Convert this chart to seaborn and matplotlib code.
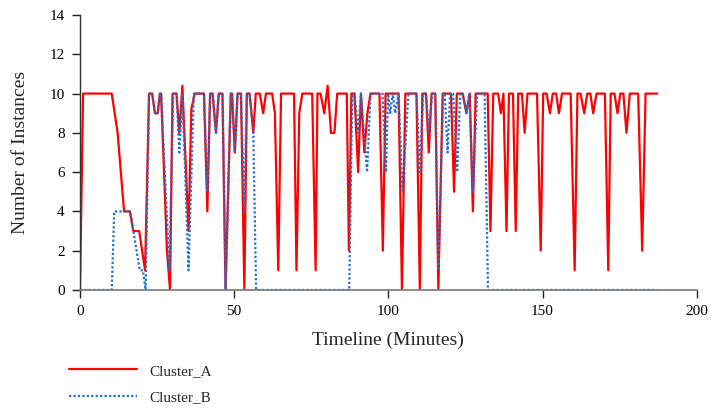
import matplotlib
matplotlib.use("Agg")
import matplotlib.pyplot as plt
import seaborn as sns
import pandas as pd

# Cluster_A breakpoints (minutes, instances)
a_time = [0, 1, 10.3, 12.2, 14.3, 16.2, 17.3, 19.2, 21.1, 22.4, 23.4, 24.3, 25.2, 25.9, 26.3, 28.2, 29.2,
          30.0, 31.3, 32.2, 33.2, 35.2, 36.1, 37.2, 40.2, 41.3, 42.2, 43.0, 44.1, 45.0, 46.2, 47.2,
          48.9, 49.3, 50.2, 51.1, 52.2, 53.3, 54.1, 55.0, 56.2, 57.0, 58.3, 59.4, 60.3, 62.3, 63.2,
          64.3, 65.2, 69.4, 70.2, 71.1, 72.1, 75.3, 76.4, 77.0, 78.0, 79.2, 80.3, 81.4, 82.5, 83.4,
          86.5, 87.2, 88.0, 89.0, 90.2, 91.1, 92.2, 93.2, 94.2, 97.1, 98.2, 99.1, 103.3, 104.4,
          105.5, 109.1, 110.2, 111.0, 112.2, 113.1, 114.0, 115.2, 116.2, 117.6, 120.3, 121.3, 122.2,
          124.1, 125.3, 126.4, 127.4, 128.3, 132.2, 133.1, 134.0, 135.6, 136.5, 137.3, 138.3, 139.1,
          140.4, 141.3, 142.1, 143.3, 144.2, 145.1, 148.2, 149.4, 150.2, 151.3, 152.4, 153.3, 154.4,
          155.3, 156.3, 159.1, 160.4, 161.3, 162.3, 163.5, 164.5, 165.5, 166.4, 167.5, 170.2, 171.3,
          172.1, 173.3, 174.3, 175.2, 176.2, 177.2, 178.3, 181.0, 182.3, 183.4, 187.2]
a_vals = [0, 10, 10, 8, 4, 4, 3, 3, 1, 10, 10, 9, 9, 10, 10, 2, 0,
          10, 10, 8, 10.4, 3, 9.2, 10, 10, 4, 10, 10, 8, 10, 10, 0,
          10, 10, 7, 10, 10, 0, 10, 10, 8, 10, 10, 9, 10, 10, 9,
          1, 10, 10, 1, 9, 10, 10, 1, 10, 10, 9, 10.4, 8, 8, 10,
          10, 2, 10, 10, 6, 10, 7, 9, 10, 10, 2, 10, 10, 0,
          10, 10, 0, 10, 10, 7, 10, 10, 0, 10, 10, 5, 10,
          10, 9, 10, 4, 10, 10, 3, 10, 10, 9, 10, 3, 10,
          10, 3, 10, 10, 8, 10, 10, 2, 10, 10, 9, 10, 10,
          9, 10, 10, 1, 10, 10, 9, 10, 10, 9, 10, 10, 1,
          10, 10, 9, 10, 10, 8, 10, 10, 2, 10, 10]

# Cluster_B breakpoints (minutes, instances)
b_time = [0, 10.3, 11.1, 16.2, 17.3, 19.4, 20.4, 21.3, 22.4, 23.4, 24.3, 25.2, 25.9, 26.3, 29.0, 30.2,
          31.3, 32.2, 33.2, 35.2, 36.9, 40.2, 41.3, 42.2, 43.0, 44.1, 45.0, 46.2, 47.2, 48.9, 49.3,
          50.2, 51.1, 52.2, 53.3, 54.1, 55.0, 56.2, 57.1, 87.3, 88.3, 89.0, 90.2, 91.1, 93.1, 94.2,
          98.1, 99.2, 99.9, 100.6, 101.4, 102.2, 103.3, 104.6, 106.5, 109.1, 110.2, 111.3, 112.2,
          113.1, 114.2, 115.2, 116.2, 117.8, 118.3, 119.2, 120.0, 121.0, 122.3, 123.3, 124.1, 125.3,
          126.2, 127.4, 128.8, 131.2, 132.3, 187.2]
b_vals = [0, 0, 4, 4, 3, 1, 1, 0, 10, 10, 9, 9, 10, 10, 1, 10,
          10, 7, 10, 1, 10, 10, 5, 10, 10, 8, 10, 10, 0, 10, 10,
          7, 10, 10, 4, 10, 10, 8, 0, 0, 10, 10, 8, 10, 6, 10,
          10, 6, 10, 9, 10, 9, 10, 5, 10, 10, 6, 10, 10,
          8, 10, 10, 1, 10, 10, 7, 10, 10, 6, 10, 10, 9,
          10, 5, 10, 10, 0, 0]

x_ticks = [0, 50, 100, 150, 200]
y_ticks = [0, 2, 4, 6, 8, 10, 12, 14]

sns.set_theme(style="white")
plt.rcParams["font.family"] = ["Liberation Serif", "DejaVu Serif"]

fig = plt.figure(figsize=(7.11, 4.09), dpi=100)
ax = fig.add_axes([0.1125, 0.291, 0.8675, 0.6723])

df_a = pd.DataFrame({"t": a_time, "v": a_vals})
df_b = pd.DataFrame({"t": b_time, "v": b_vals})
sns.lineplot(data=df_a, x="t", y="v", ax=ax, color="#ff0000", lw=1.6,
             estimator=None, sort=False, label="Cluster_A")
sns.lineplot(data=df_b, x="t", y="v", ax=ax, color="#1f6fd0", lw=1.6,
             linestyle=(0, (1, 1)), estimator=None, sort=False, label="Cluster_B")

ax.set_xlim(0, 200)
ax.set_ylim(0, 14)
ax.set_xticks(x_ticks)
ax.set_yticks(y_ticks)
ax.tick_params(axis="both", direction="out", length=6, width=1, color="#222222",
               labelsize=11, labelcolor="black", bottom=True, left=True, pad=5)
for s in ["top", "right"]:
    ax.spines[s].set_visible(False)
ax.spines["left"].set_color("#333333")
ax.spines["bottom"].set_color("#777777")
ax.spines["left"].set_linewidth(1)
ax.spines["bottom"].set_linewidth(1.2)
ax.grid(False)
ax.set_xlabel("Timeline (Minutes)", fontsize=14, labelpad=9.5)
ax.set_ylabel("Number of Instances", fontsize=14, labelpad=14.5)

handles, labels = ax.get_legend_handles_labels()
ax.get_legend().remove()
fig.legend(handles, labels, loc="upper left", bbox_to_anchor=(0.088, 0.125),
           frameon=False, fontsize=11, handlelength=4.5, handletextpad=0.8,
           labelspacing=0.85, borderaxespad=0)

fig.savefig("out.png", dpi=100)
